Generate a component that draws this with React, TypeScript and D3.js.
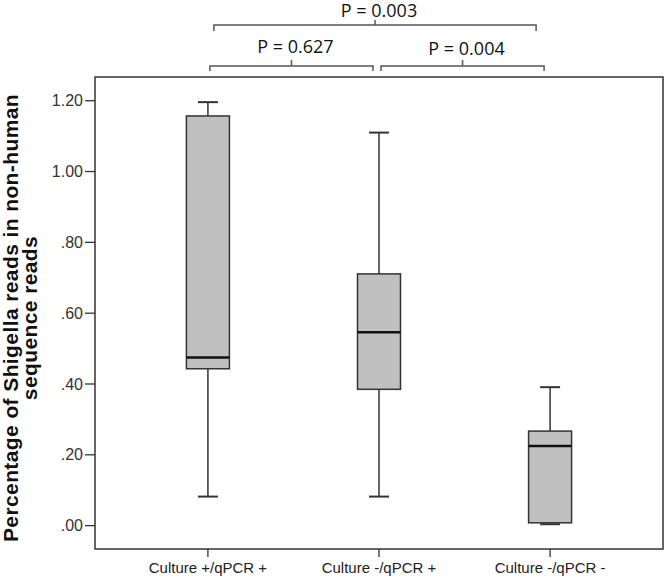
import React from "react";
import * as d3 from "d3";

// groups and five-number summaries
const categories = ["Culture +/qPCR +", "Culture -/qPCR +", "Culture -/qPCR -"];
const whiskerLow = [0.082, 0.082, 0.004];
const quartile1 = [0.443, 0.385, 0.008];
const medians = [0.475, 0.546, 0.225];
const quartile3 = [1.157, 0.711, 0.267];
const whiskerHigh = [1.196, 1.11, 0.391];

const yTicks = [0, 0.2, 0.4, 0.6, 0.8, 1.0, 1.2];

// pairwise comparisons (group index a, group index b, label)
const compareFrom = [0, 1, 0];
const compareTo = [1, 2, 2];
const compareLabel = ["P = 0.627", "P = 0.004", "P = 0.003"];
const compareLevel = [0, 0, 1];

const W = 666;
const H = 580;
const margin = { top: 77, right: 3, bottom: 31, left: 95 };

const App = () => {
	const innerW = W - margin.left - margin.right;

	const x = d3
		.scalePoint()
		.domain(categories)
		.range([margin.left, W - margin.right])
		.padding(0.66);

	const y = d3
		.scaleLinear()
		.domain([-0.066, 1.267])
		.range([H - margin.bottom, margin.top]);

	const boxW = 43;
	const capW = 20;
	const fmt = (d) => (d === 0 ? ".00" : d < 1 ? d3.format(".2f")(d).slice(1) : d3.format(".2f")(d));

	const stats = categories.map((c, i) => ({
		c,
		lo: whiskerLow[i],
		q1: quartile1[i],
		med: medians[i],
		q3: quartile3[i],
		hi: whiskerHigh[i],
	}));

	// bracket geometry per level: line y, inset at the ends
	const levels = [
		{ y: 66, drop: 5, rise: 6, inL: 2, inR: 6 },
		{ y: 25, drop: 6, rise: 5, inL: 6, inR: 14 },
	];
	const labelBase = [53, 55, 17];

	return (
		<svg
			width={W}
			height={H}
			style={{ position: "absolute", left: 0, top: 0, background: "#fff" }}
		>
			{/* y axis title */}
			<g
				transform={`translate(0, 318) rotate(-90)`}
				fontFamily="Arial, 'Liberation Sans', sans-serif"
				fontWeight="bold"
				fontSize={21}
				fill="#111"
				textAnchor="middle"
				letterSpacing={0.4}
			>
				<text x={0} y={18}>
					Percentage of Shigella reads in non-human
				</text>
				<text x={0} y={37}>
					sequence reads
				</text>
			</g>

			{/* frame */}
			<rect
				x={margin.left}
				y={margin.top}
				width={innerW}
				height={H - margin.top - margin.bottom}
				fill="none"
				stroke="#333"
				strokeWidth={1.5}
			/>

			{/* y ticks */}
			{yTicks.map((t) => (
				<g key={t} transform={`translate(0, ${y(t)})`}>
					<line x1={margin.left - 10} x2={margin.left} stroke="#333" strokeWidth={1.3} />
					<text
						x={margin.left - 12}
						dy="0.35em"
						textAnchor="end"
						fontFamily="Arial, 'Liberation Sans', sans-serif"
						fontSize={16}
						fill="#333"
					>
						{fmt(t)}
					</text>
				</g>
			))}

			{/* x ticks */}
			{categories.map((c) => (
				<g key={c} transform={`translate(${x(c)}, ${H - margin.bottom})`}>
					<line y1={0} y2={8} stroke="#333" strokeWidth={1.3} />
					<text
						y={24}
						textAnchor="middle"
						fontFamily="Arial, 'Liberation Sans', sans-serif"
						fontSize={15}
						fill="#222"
					>
						{c}
					</text>
				</g>
			))}

			{/* boxes */}
			{stats.map((s) => {
				const cx = x(s.c);
				return (
					<g key={s.c}>
						<line x1={cx} x2={cx} y1={y(s.hi)} y2={y(s.q3)} stroke="#333" strokeWidth={1.5} />
						<line x1={cx} x2={cx} y1={y(s.q1)} y2={y(s.lo)} stroke="#333" strokeWidth={1.5} />
						<line x1={cx - capW / 2} x2={cx + capW / 2} y1={y(s.hi)} y2={y(s.hi)} stroke="#333" strokeWidth={2} />
						<line x1={cx - capW / 2} x2={cx + capW / 2} y1={y(s.lo)} y2={y(s.lo)} stroke="#333" strokeWidth={2} />
						<rect
							x={cx - boxW / 2}
							y={y(s.q3)}
							width={boxW}
							height={y(s.q1) - y(s.q3)}
							fill="#c0c0c0"
							stroke="#333"
							strokeWidth={1.5}
						/>
						<line
							x1={cx - boxW / 2}
							x2={cx + boxW / 2}
							y1={y(s.med)}
							y2={y(s.med)}
							stroke="#111"
							strokeWidth={2.6}
						/>
					</g>
				);
			})}

			{/* significance brackets */}
			{compareLabel.map((lab, i) => {
				const lv = levels[compareLevel[i]];
				const x1 = x(categories[compareFrom[i]]) + lv.inL;
				const x2 = x(categories[compareTo[i]]) - lv.inR;
				const mid = (x1 + x2) / 2;
				const path = d3.path();
				path.moveTo(x1, lv.y + lv.drop);
				path.lineTo(x1, lv.y);
				path.lineTo(x2, lv.y);
				path.lineTo(x2, lv.y + lv.drop);
				path.moveTo(mid, lv.y);
				path.lineTo(mid, lv.y - lv.rise);
				return (
					<g key={lab}>
						<path d={path.toString()} fill="none" stroke="#555" strokeWidth={1.5} />
						<text
							x={mid + 4}
							y={labelBase[i]}
							textAnchor="middle"
							fontFamily="'Open Sans', sans-serif"
							fontSize={18}
							fill="#111"
						>
							{lab}
						</text>
					</g>
				);
			})}
		</svg>
	);
};

export default App;
